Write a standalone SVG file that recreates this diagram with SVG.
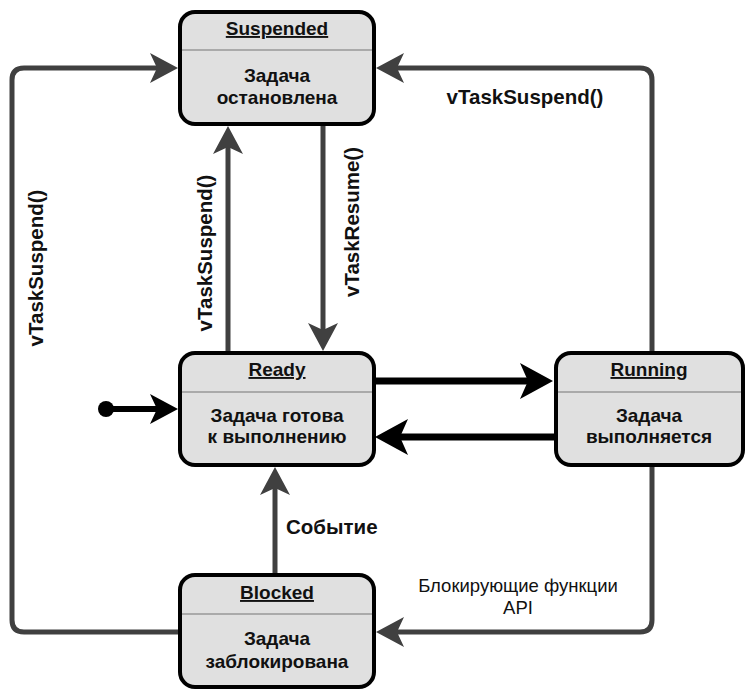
<svg xmlns="http://www.w3.org/2000/svg" width="746" height="690" viewBox="0 0 746 690">
<style>
.box{fill:#e0e0e0;stroke:#000;stroke-width:4}
.sep{stroke:#999;stroke-width:1.5}
.t{font-family:"Liberation Sans",Arial,sans-serif;font-weight:bold;font-size:19px;fill:#111;text-anchor:middle}
.title{text-decoration:underline}
.lbl{font-family:"Liberation Sans",Arial,sans-serif;font-weight:bold;font-size:20.5px;fill:#111}
.lbln{font-family:"Liberation Sans",Arial,sans-serif;font-size:18.5px;fill:#111;text-anchor:middle}
.g{fill:none;stroke:#404040;stroke-width:5}
.k{fill:none;stroke:#000;stroke-width:7}
</style>
<defs>
<marker id="ag" markerUnits="userSpaceOnUse" viewBox="0 0 28 30" refX="8" refY="15" markerWidth="28" markerHeight="30" orient="auto">
<path d="M0,0 L28,15 L0,30 L7,15 Z" fill="#404040"/>
</marker>
<marker id="ak" markerUnits="userSpaceOnUse" viewBox="0 0 33 36" refX="9" refY="18" markerWidth="33" markerHeight="36" orient="auto">
<path d="M0,0 L33,18 L0,36 L8,18 Z" fill="#000"/>
</marker>
<marker id="ai" markerUnits="userSpaceOnUse" viewBox="0 0 28 30" refX="8" refY="15" markerWidth="28" markerHeight="30" orient="auto">
<path d="M0,0 L28,15 L0,30 L7,15 Z" fill="#000"/>
</marker>
</defs>
<g id="connectors">
<path class="g" d="M178,632 H24 Q12,632 12,620 V80 Q12,68 24,68 H158" marker-end="url(#ag)"/>
<path class="g" d="M652,353 V80 Q652,68 640,68 H396" marker-end="url(#ag)"/>
<path class="g" d="M228,351 V146" marker-end="url(#ag)"/>
<path class="g" d="M323,126 V331" marker-end="url(#ag)"/>
<path class="k" d="M375,381 H529" marker-end="url(#ak)"/>
<path class="k" d="M555,437 H399" marker-end="url(#ak)"/>
<path class="g" d="M275,573 V487" marker-end="url(#ag)"/>
<path class="g" d="M652,467 V620 Q652,632 640,632 H396" marker-end="url(#ag)"/>
<circle cx="106" cy="409" r="8" fill="#000"/>
<path d="M106,409 H158" stroke="#000" stroke-width="6" fill="none" marker-end="url(#ai)"/>
<text class="lbl" x="525" y="104" text-anchor="middle">vTaskSuspend()</text>
<text class="lbl" transform="translate(43,268) rotate(-90)" text-anchor="middle">vTaskSuspend()</text>
<text class="lbl" transform="translate(212,253) rotate(-90)" text-anchor="middle">vTaskSuspend()</text>
<text class="lbl" transform="translate(359,222) rotate(-90)" text-anchor="middle">vTaskResume()</text>
<text class="lbl" x="286" y="534">Событие</text>
<text class="lbln" x="518" y="592">Блокирующие функции</text>
<text class="lbln" x="518" y="614">API</text>
</g>
<g id="suspended">
<rect class="box" x="180" y="12" width="194" height="112" rx="15"/>
<line class="sep" x1="182" y1="50" x2="372" y2="50"/>
<text class="t title" x="277" y="35">Suspended</text>
<text class="t" x="277" y="82">Задача</text>
<text class="t" x="277" y="104">остановлена</text>
</g>
<g id="ready">
<rect class="box" x="180" y="353" width="194" height="112" rx="15"/>
<line class="sep" x1="182" y1="392" x2="372" y2="392"/>
<text class="t title" x="277" y="376">Ready</text>
<text class="t" x="277" y="422">Задача готова</text>
<text class="t" x="277" y="443">к выполнению</text>
</g>
<g id="running">
<rect class="box" x="556" y="353" width="187" height="112" rx="15"/>
<line class="sep" x1="558" y1="392" x2="741" y2="392"/>
<text class="t title" x="649" y="376">Running</text>
<text class="t" x="649" y="422">Задача</text>
<text class="t" x="649" y="443">выполняется</text>
</g>
<g id="blocked">
<rect class="box" x="180" y="575" width="194" height="112" rx="15"/>
<line class="sep" x1="182" y1="614" x2="372" y2="614"/>
<text class="t title" x="277" y="599">Blocked</text>
<text class="t" x="277" y="645">Задача</text>
<text class="t" x="277" y="668">заблокирована</text>
</g>
</svg>
